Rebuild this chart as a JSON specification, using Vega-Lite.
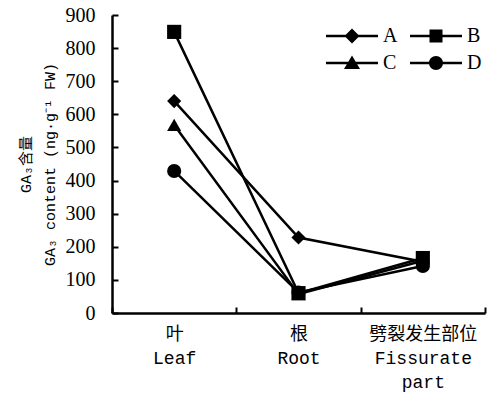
{
  "$schema": "https://vega.github.io/schema/vega-lite/v6.json",
  "width": 373,
  "height": 298,
  "autosize": {"type": "none"},
  "padding": {"left": 112, "top": 15, "right": 17, "bottom": 80},
  "background": "white",
  "data": {
    "values": [
      {"series": "A", "tissue": "叶|Leaf", "value": 640},
      {"series": "A", "tissue": "根|Root", "value": 228},
      {"series": "A", "tissue": "劈裂发生部位|Fissurate|part", "value": 155},
      {"series": "B", "tissue": "叶|Leaf", "value": 849},
      {"series": "B", "tissue": "根|Root", "value": 60},
      {"series": "B", "tissue": "劈裂发生部位|Fissurate|part", "value": 166},
      {"series": "C", "tissue": "叶|Leaf", "value": 568},
      {"series": "C", "tissue": "根|Root", "value": 57},
      {"series": "C", "tissue": "劈裂发生部位|Fissurate|part", "value": 158},
      {"series": "D", "tissue": "叶|Leaf", "value": 429},
      {"series": "D", "tissue": "根|Root", "value": 62},
      {"series": "D", "tissue": "劈裂发生部位|Fissurate|part", "value": 142}
    ]
  },
  "encoding": {
    "x": {
      "field": "tissue",
      "type": "nominal",
      "sort": ["叶|Leaf", "根|Root", "劈裂发生部位|Fissurate|part"],
      "scale": {"paddingInner": 0, "paddingOuter": 0},
      "axis": {
        "title": null,
        "labelAngle": 0,
        "tickBand": "extent",
        "tickSize": -6,
        "tickWidth": 2,
        "tickColor": "black",
        "domainColor": "black",
        "domainWidth": 2.5,
        "labelExpr": "split(datum.label, '|')",
        "labelFont": "Liberation Mono, Noto Sans CJK SC",
        "labelFontSize": 18,
        "labelColor": "black",
        "labelLineHeight": 24,
        "labelPadding": 18,
        "labelBaseline": "top"
      }
    },
    "y": {
      "field": "value",
      "type": "quantitative",
      "scale": {"domain": [0, 900], "nice": false},
      "axis": {
        "values": [0, 100, 200, 300, 400, 500, 600, 700, 800, 900],
        "grid": false,
        "tickSize": -6,
        "tickWidth": 2,
        "tickColor": "black",
        "domainColor": "black",
        "domainWidth": 2.5,
        "labelFont": "Liberation Serif",
        "labelFontSize": 20,
        "labelColor": "black",
        "labelPadding": 23,
        "title": ["GA₃含量", "GA₃ content (ng·g⁻¹ FW)"],
        "titleFont": "Liberation Mono, Noto Sans CJK SC",
        "titleFontSize": 15,
        "titleFontWeight": "normal",
        "titleColor": "black",
        "titleLineHeight": 24,
        "titlePadding": 8
      }
    }
  },
  "layer": [
    {
      "mark": {"type": "line", "color": "black", "strokeWidth": 2.5},
      "encoding": {"detail": {"field": "series"}}
    },
    {
      "mark": {"type": "point", "filled": true, "color": "black", "opacity": 1, "size": 200},
      "encoding": {
        "shape": {
          "field": "series",
          "type": "nominal",
          "scale": {"domain": ["A", "B", "C", "D"], "range": ["diamond", "square", "triangle-up", "circle"]},
          "legend": null
        }
      }
    },
    {
      "mark": {"type": "point", "filled": true, "color": "black", "opacity": 0},
      "encoding": {
        "shape": {
          "field": "series",
          "type": "nominal",
          "scale": {
            "domain": ["A", "C", "B", "D"],
            "range": [
              "M-1,-0.13H4.2V0.13H-1Z M1.6,-0.75L2.35,0L1.6,0.75L0.85,0Z",
              "M-1,-0.13H4.2V0.13H-1Z M1.6,-0.75L2.4,0.6H0.8Z",
              "M-1,-0.13H4.2V0.13H-1Z M0.95,-0.65H2.25V0.65H0.95Z",
              "M-1,-0.13H4.2V0.13H-1Z M0.9,0A0.7,0.7,0,0,1,2.3,0A0.7,0.7,0,0,1,0.9,0Z"
            ]
          },
          "legend": {
            "title": null,
            "orient": "none",
            "legendX": 214,
            "legendY": 11,
            "columns": 2,
            "padding": 0,
            "symbolSize": 400,
            "symbolFillColor": "black",
            "symbolStrokeWidth": 0,
            "symbolOpacity": 1,
            "rowPadding": 7,
            "columnPadding": 12,
            "labelOffset": 37,
            "labelFont": "Liberation Serif",
            "labelFontSize": 20,
            "labelColor": "black"
          }
        }
      }
    }
  ],
  "resolve": {"scale": {"shape": "independent"}, "legend": {"shape": "independent"}},
  "config": {"view": {"stroke": null}}
}
